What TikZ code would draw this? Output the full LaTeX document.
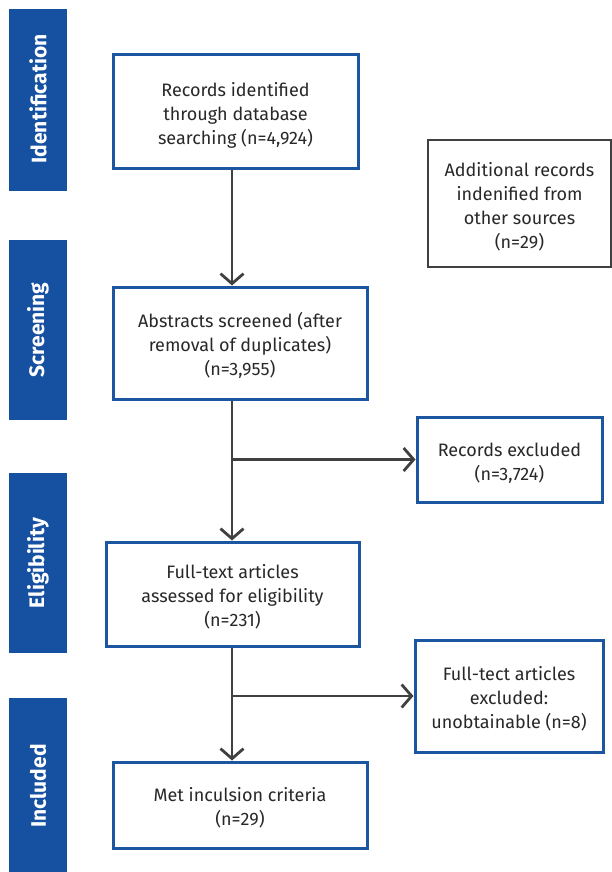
\documentclass[tikz,border=0pt]{standalone}
\usepackage{fontspec}
\setmainfont{Fira Sans}
\usetikzlibrary{arrows.meta}
\definecolor{barblue}{RGB}{22,80,160}
\definecolor{boxblue}{RGB}{28,86,160}
\definecolor{linegray}{RGB}{64,64,64}
\definecolor{txtgray}{RGB}{40,40,40}
\newcommand\bxt[1]{\begin{tabular}{@{}c@{}}\rule{0pt}{25pt}#1\end{tabular}}
\tikzset{
  phasetxt/.style={text=white, font=\fontsize{21}{22}\selectfont\bfseries, rotate=90, inner sep=0pt},
  boxbase/.style={fill=white, text=txtgray, font=\fontsize{18}{24}\selectfont, inner sep=0pt},
  bluebox/.style={boxbase, draw=boxblue, line width=3pt},
  graybox/.style={boxbase, draw=linegray, line width=2.8pt},
  arr/.style={draw=linegray, line width=2.8pt, -{Straight Barb[length=10pt,width=23pt,line width=2.8pt]}}
}
\begin{document}
\begin{tikzpicture}[x=1pt,y=-1pt]
\useasboundingbox (0,0) rectangle (612,872);
% phase bars
\fill[barblue] (9,9) rectangle (67,191);
\node[phasetxt] (p1) at (38,99) {Identification};
\fill[barblue] (9,240) rectangle (67,420);
\node[phasetxt] (p2) at (38,330) {Screening};
\fill[barblue] (9,473) rectangle (67,653);
\node[phasetxt] (p3) at (38,563) {Eligibility};
\fill[barblue] (9,698) rectangle (67,872);
\node[phasetxt] (p4) at (38,786) {Included};
% boxes
\node[bluebox, minimum width=245pt, minimum height=113pt] (b1) at (235.5,111.5) {\bxt{Records identified\\through database\\searching (n=4,924)}};
\node[graybox, minimum width=183pt, minimum height=127pt] (add) at (519.5,203.5) {\bxt{Additional records\\indenified from\\other sources\\(n=29)}};
\node[bluebox, minimum width=254pt, minimum height=112pt] (b2) at (240,343) {\bxt{Abstracts screened (after\\removal of duplicates)\\(n=3,955)}};
\node[bluebox, minimum width=185pt, minimum height=85pt] (ex1) at (509.5,459.5) {\bxt{Records excluded\\(n=3,724)}};
\node[bluebox, minimum width=253pt, minimum height=104pt] (b3) at (232.5,594) {\bxt{Full-text articles\\assessed for eligibility\\(n=231)}};
\node[bluebox, minimum width=188pt, minimum height=112pt] (ex2) at (509,696) {\bxt{Full-tect articles\\excluded:\\unobtainable (n=8)}};
\node[bluebox, minimum width=254pt, minimum height=86pt] (b4) at (240,805) {\bxt{Met inculsion criteria\\(n=29)}};
% connectors
\coordinate (ax) at (232,0);
\draw[arr] (b1.south -| ax) -- (b2.north -| ax);
\draw[arr] (b2.south -| ax) -- (b3.north -| ax);
\draw[arr] (b3.south -| ax) -- (b4.north -| ax);
\draw[arr] (ex1.west -| ax) -- (ex1.west);
\draw[arr] (ex2.west -| ax) -- (ex2.west);
\end{tikzpicture}
\end{document}
